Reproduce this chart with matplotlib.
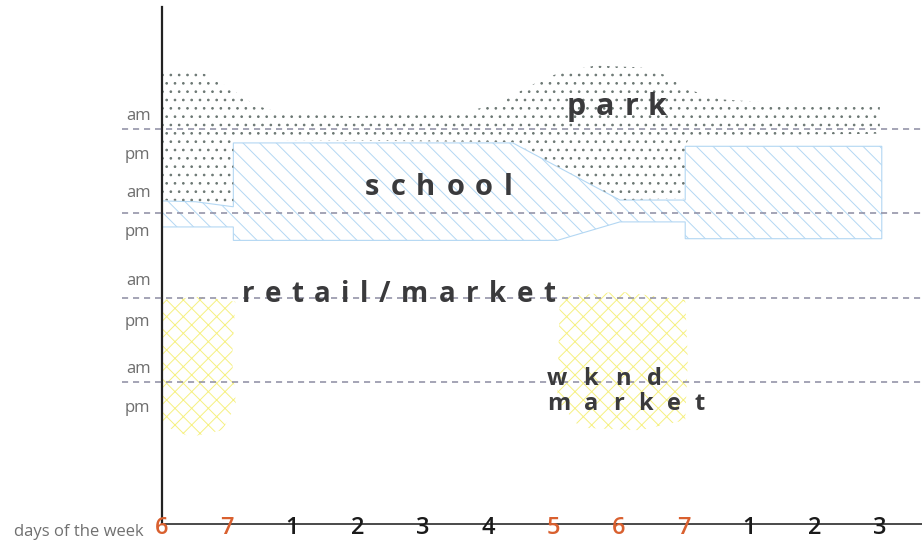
import matplotlib.pyplot as plt
from matplotlib.patches import Polygon

plt.rcParams["font.family"] = ["Open Sans", "DejaVu Sans"]
plt.rcParams["hatch.linewidth"] = 0.7

# days along the bottom, weekend days drawn in orange
days = ["6", "7", "1", "2", "3", "4", "5", "6", "7", "1", "2", "3"]
weekend = [True, True, False, False, False, False, True, True, True, False, False, False]

# am / pm slots on the left
slot_labels = ["am", "pm", "am", "pm", "am", "pm", "am", "pm"]
slot_y = [4.19, 3.72, 3.27, 2.80, 2.22, 1.73, 1.17, 0.71]
divider_y = [4, 3, 2, 1]

# park (stippled)
park_x = [0.0, 0.28, 0.67, 1.05, 1.43, 1.81, 2.89, 3.96, 4.72, 5.18, 5.64, 6.10,
          6.64, 7.33, 7.71, 8.09, 8.55, 9.47, 11.0, 11.0, 8.09, 8.02, 8.02, 7.02,
          5.38, 1.10, 1.10, 0.59, 0.0]
park_y = [4.71, 4.73, 4.66, 4.49, 4.29, 4.20, 4.16, 4.18, 4.22, 4.32, 4.52, 4.68,
          4.76, 4.74, 4.65, 4.47, 4.36, 4.31, 4.31, 3.95, 3.92, 3.80, 3.18, 3.16,
          3.85, 3.88, 3.10, 3.14, 3.16]

# school (hatched)
school_x = [0.0, 0.52, 1.10, 1.10, 5.38, 7.02, 8.02, 8.02, 11.03, 11.03, 8.02,
            8.02, 7.02, 6.06, 1.10, 1.10, 0.0]
school_y = [3.15, 3.14, 3.08, 3.84, 3.84, 3.16, 3.16, 3.80, 3.80, 2.70, 2.70,
            2.90, 2.90, 2.68, 2.68, 2.84, 2.84]

# markets (yellow scribble)
retail_x = [0.01, 0.59, 1.13, 1.08, 1.14, 0.93, 0.44, 0.02]
retail_y = [1.97, 2.01, 1.95, 1.26, 0.72, 0.42, 0.34, 0.48]
wknd_x = [6.10, 7.02, 8.02, 8.06, 8.02, 7.33, 6.41, 6.06]
wknd_y = [2.01, 2.07, 1.97, 1.26, 0.54, 0.42, 0.45, 0.78]

# word, start x, end x, baseline y, size
labels = [
    ("park", 6.21, 7.74, 4.17, 22),
    ("school", 3.12, 5.38, 3.22, 21),
    ("retail/market", 1.23, 6.03, 1.95, 20),
    ("wknd", 5.90, 7.66, 0.955, 17),
    ("market", 5.90, 8.32, 0.665, 17),
]

fig = plt.figure(figsize=(9.22, 5.41), dpi=100)
ax = fig.add_axes([161.5 / 922, 17 / 541, (922 - 161.5) / 922, 517 / 541])
ax.set_xlim(0, 11.646)
ax.set_ylim(-0.696, 5.458)

ax.add_patch(Polygon(list(zip(school_x, school_y)), closed=True, facecolor="none",
                     edgecolor="#b3d7f3", lw=0.8, hatch="\\\\", zorder=1))
ax.add_patch(Polygon(list(zip(park_x, park_y)), closed=True, facecolor="none",
                     edgecolor="#6b7773", lw=0, hatch="..", zorder=2))
for mx, my in [(retail_x, retail_y), (wknd_x, wknd_y)]:
    ax.add_patch(Polygon(list(zip(mx, my)), closed=True, facecolor="none",
                         edgecolor="#f6f080", lw=0, hatch="xx", zorder=1))

for y in divider_y:
    ax.plot([-0.6, 11.646], [y, y], ls=(0, (4, 3.2)), lw=1.1, color="#8c8ca2",
            clip_on=False, zorder=3)

for s in ["top", "right"]:
    ax.spines[s].set_visible(False)
ax.spines["left"].set_linewidth(1.6)
ax.spines["left"].set_color("#222222")
ax.spines["bottom"].set_linewidth(1.3)
ax.spines["bottom"].set_color("#3a3a3a")

ax.set_xticks([])
ax.set_yticks(slot_y, slot_labels)
ax.tick_params(axis="y", length=0, pad=8, labelsize=12, labelcolor="#6e6e6e")

for i, (d, w) in enumerate(zip(days, weekend)):
    ax.text(i, -0.815, d, ha="center", va="baseline", fontsize=17,
            fontweight="semibold", color="#d9602f" if w else "#1a1a1a",
            clip_on=False, zorder=6)

fig.text(14 / 922, 1 - 536 / 541, "days of the week", fontsize=12,
         color="#707070", va="baseline")

# letter-spaced labels
renderer = fig.canvas.get_renderer()
inv = ax.transData.inverted()
for word, x0, x1, y, size in labels:
    chars = [ax.text(x0, y, c, fontsize=size, fontweight="bold", color="#3a3a3c",
                     va="baseline", zorder=5) for c in word]
    widths = [t.get_window_extent(renderer).width for t in chars]
    p0 = ax.transData.transform((x0, y))
    p1 = ax.transData.transform((x1, y))
    gap = (p1[0] - p0[0] - sum(widths)) / (len(word) - 1)
    px = p0[0]
    for t, wd in zip(chars, widths):
        t.set_x(inv.transform((px, p0[1]))[0])
        px += wd + gap

fig.savefig("out.png", dpi=100)
